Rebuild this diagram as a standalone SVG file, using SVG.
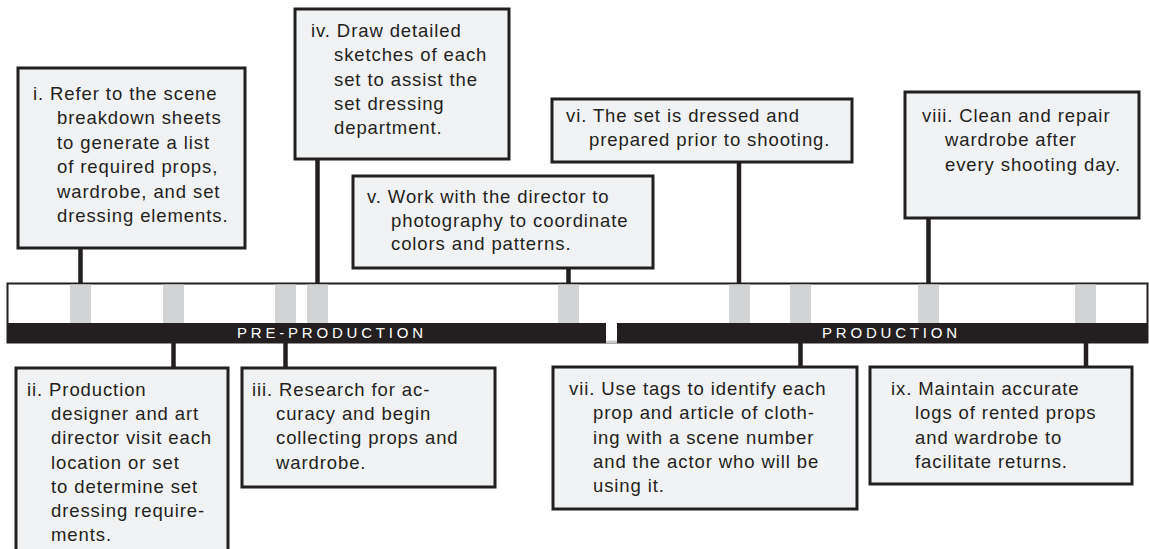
<svg xmlns="http://www.w3.org/2000/svg" width="1149" height="549" viewBox="0 0 1149 549">
  <style>
    .box { fill: #f1f2f3; stroke: #231f20; stroke-width: 3; }
    .lbl { font-family: "Liberation Sans", Arial, Helvetica, sans-serif; font-size: 18.5px; letter-spacing: 0.9px; fill: #231f20; }
    .phase { font-family: "Liberation Sans", Arial, Helvetica, sans-serif; font-size: 15px; letter-spacing: 3.8px; fill: #ffffff; }
    .tick { fill: #d1d3d4; }
    .link { stroke: #231f20; stroke-width: 4.5; fill: none; }
  </style>

  <rect width="1149" height="549" fill="#ffffff"/>

  <!-- timeline bar -->
  <g id="timeline">
    <rect x="7.5" y="283.5" width="1140" height="59" fill="#ffffff" stroke="#231f20" stroke-width="2"/>
    <rect class="tick" x="70" y="284.5" width="21" height="39"/>
    <rect class="tick" x="163" y="284.5" width="21" height="39"/>
    <rect class="tick" x="275" y="284.5" width="21" height="39"/>
    <rect class="tick" x="307" y="284.5" width="21" height="39"/>
    <rect class="tick" x="558" y="284.5" width="21" height="39"/>
    <rect class="tick" x="729" y="284.5" width="21" height="39"/>
    <rect class="tick" x="790" y="284.5" width="21" height="39"/>
    <rect class="tick" x="918" y="284.5" width="21" height="39"/>
    <rect class="tick" x="1075" y="284.5" width="21" height="39"/>
    <rect x="7" y="323" width="599" height="20" fill="#231f20"/>
    <rect x="617" y="323" width="531" height="20" fill="#231f20"/>
    <!-- light edge under the gap between the two phases -->
    <rect x="606" y="340.5" width="11" height="3" fill="#c7c8ca"/>
    <text class="phase" x="237" y="338">PRE-PRODUCTION</text>
    <text class="phase" x="822" y="338">PRODUCTION</text>
  </g>

  <!-- connectors between notes and timeline -->
  <g id="connectors">
    <line class="link" x1="80.5" y1="248" x2="80.5" y2="284"/>
    <line class="link" x1="317.5" y1="159" x2="317.5" y2="284"/>
    <line class="link" x1="568.5" y1="268" x2="568.5" y2="284"/>
    <line class="link" x1="739" y1="162" x2="739" y2="284"/>
    <line class="link" x1="928.5" y1="218" x2="928.5" y2="284"/>
    <line class="link" x1="173.5" y1="343" x2="173.5" y2="368"/>
    <line class="link" x1="285.5" y1="343" x2="285.5" y2="368"/>
    <line class="link" x1="800.5" y1="343" x2="800.5" y2="367"/>
    <line class="link" x1="1086" y1="343" x2="1086" y2="367"/>
  </g>

  <g id="note-i">
    <rect class="box" x="18" y="68" width="227" height="180"/>
    <text class="lbl">
      <tspan x="33" y="100">i. Refer to the scene</tspan>
      <tspan x="57" y="124.4">breakdown sheets</tspan>
      <tspan x="57" y="148.8">to generate a list</tspan>
      <tspan x="57" y="173.2">of required props,</tspan>
      <tspan x="57" y="197.6">wardrobe, and set</tspan>
      <tspan x="57" y="222">dressing elements.</tspan>
    </text>
  </g>

  <g id="note-ii">
    <rect class="box" x="16" y="368" width="212" height="200"/>
    <text class="lbl">
      <tspan x="27" y="396">ii. Production</tspan>
      <tspan x="51" y="420.2">designer and art</tspan>
      <tspan x="51" y="444.4">director visit each</tspan>
      <tspan x="51" y="468.6">location or set</tspan>
      <tspan x="51" y="492.8">to determine set</tspan>
      <tspan x="51" y="517">dressing require-</tspan>
      <tspan x="51" y="541.2">ments.</tspan>
    </text>
  </g>

  <g id="note-iii">
    <rect class="box" x="242" y="368" width="253" height="119"/>
    <text class="lbl">
      <tspan x="252" y="396">iii. Research for ac-</tspan>
      <tspan x="276" y="420.2">curacy and begin</tspan>
      <tspan x="276" y="444.4">collecting props and</tspan>
      <tspan x="276" y="468.6">wardrobe.</tspan>
    </text>
  </g>

  <g id="note-iv">
    <rect class="box" x="295" y="9" width="214" height="150"/>
    <text class="lbl">
      <tspan x="311" y="37">iv. Draw detailed</tspan>
      <tspan x="334" y="61.3">sketches of each</tspan>
      <tspan x="334" y="85.6">set to assist the</tspan>
      <tspan x="334" y="109.9">set dressing</tspan>
      <tspan x="334" y="134.2">department.</tspan>
    </text>
  </g>

  <g id="note-v">
    <rect class="box" x="353" y="176" width="300" height="92"/>
    <text class="lbl">
      <tspan x="367" y="203">v. Work with the director to</tspan>
      <tspan x="391" y="226.5">photography to coordinate</tspan>
      <tspan x="391" y="250">colors and patterns.</tspan>
    </text>
  </g>

  <g id="note-vi">
    <rect class="box" x="552" y="99" width="300" height="63"/>
    <text class="lbl">
      <tspan x="566" y="122">vi. The set is dressed and</tspan>
      <tspan x="589" y="146">prepared prior to shooting.</tspan>
    </text>
  </g>

  <g id="note-vii">
    <rect class="box" x="553" y="367" width="304" height="142"/>
    <text class="lbl">
      <tspan x="569" y="395">vii. Use tags to identify each</tspan>
      <tspan x="593" y="419.3">prop and article of cloth-</tspan>
      <tspan x="593" y="443.6">ing with a scene number</tspan>
      <tspan x="593" y="467.9">and the actor who will be</tspan>
      <tspan x="593" y="492.2">using it.</tspan>
    </text>
  </g>

  <g id="note-viii">
    <rect class="box" x="905" y="92" width="234" height="126"/>
    <text class="lbl">
      <tspan x="922" y="122">viii. Clean and repair</tspan>
      <tspan x="945" y="146.3">wardrobe after</tspan>
      <tspan x="945" y="170.6">every shooting day.</tspan>
    </text>
  </g>

  <g id="note-ix">
    <rect class="box" x="870" y="367" width="262" height="117"/>
    <text class="lbl">
      <tspan x="891" y="395">ix. Maintain accurate</tspan>
      <tspan x="915" y="419.3">logs of rented props</tspan>
      <tspan x="915" y="443.6">and wardrobe to</tspan>
      <tspan x="915" y="467.9">facilitate returns.</tspan>
    </text>
  </g>
</svg>
